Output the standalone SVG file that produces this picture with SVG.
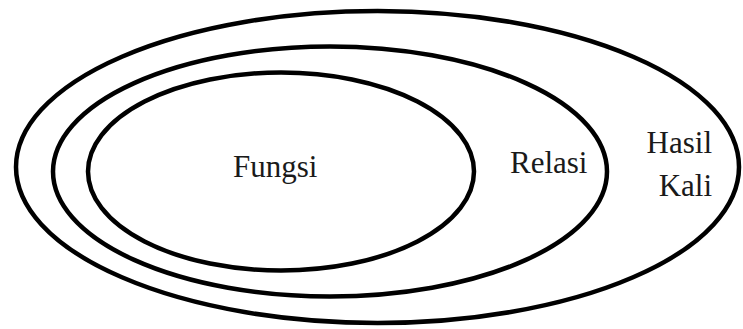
<svg xmlns="http://www.w3.org/2000/svg" width="743" height="329" viewBox="0 0 743 329">
<style>
.set{fill:none;stroke:#000;stroke-width:4.5}
.lbl{font-family:'Liberation Serif','DejaVu Serif','Times New Roman',serif;font-size:31px;fill:#1a1a1a}
</style>
<rect width="743" height="329" fill="#fff"/>
<g id="hasil-kali">
<ellipse class="set" cx="377.5" cy="167" rx="361.5" ry="156"/>
<text class="lbl" x="712" y="153" text-anchor="end">Hasil</text>
<text class="lbl" x="712" y="196" text-anchor="end">Kali</text>
</g>
<g id="relasi">
<ellipse class="set" cx="330" cy="171.5" rx="277" ry="125"/>
<text class="lbl" x="510" y="173">Relasi</text>
</g>
<g id="fungsi">
<ellipse class="set" cx="281" cy="171.5" rx="193" ry="99"/>
<text class="lbl" x="233" y="177">Fungsi</text>
</g>
<g id="connectors"/>
</svg>
